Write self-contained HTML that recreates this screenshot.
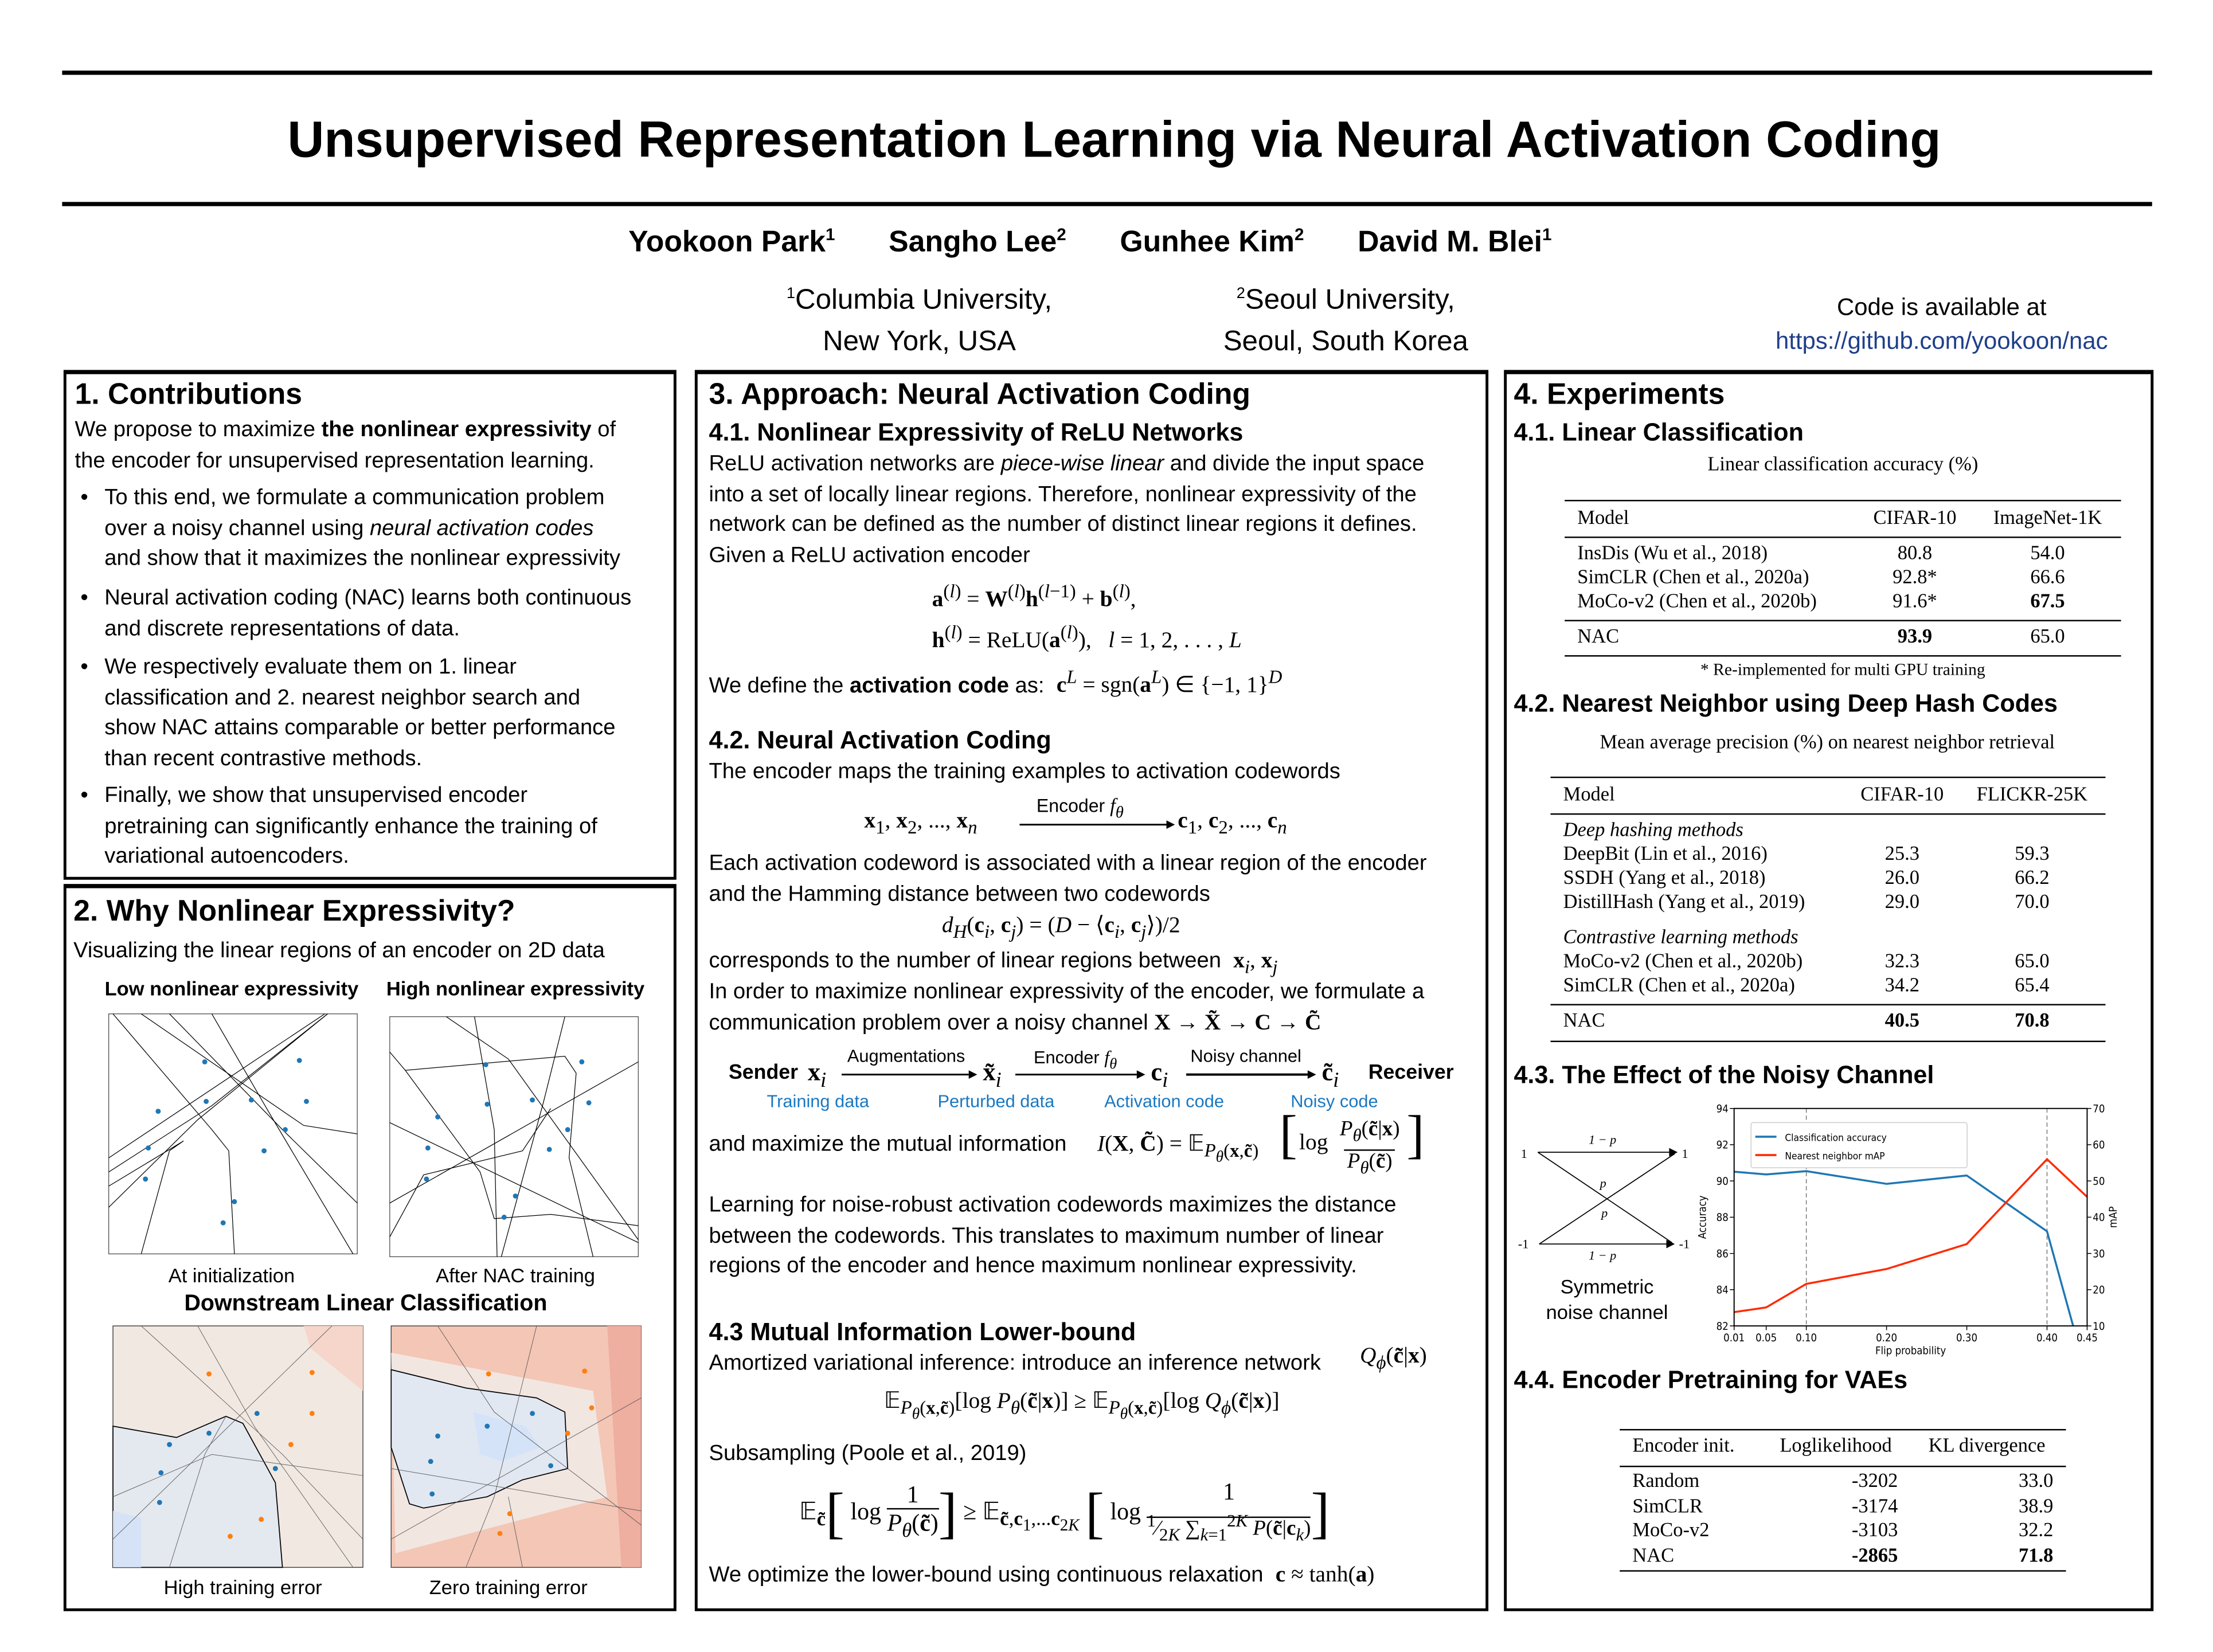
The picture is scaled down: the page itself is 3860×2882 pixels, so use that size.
<!DOCTYPE html>
<html><head><meta charset="utf-8">
<style>
html,body{margin:0;padding:0;background:#fff;}
body{width:3860px;height:2880px;overflow:hidden;position:relative;}
#pg{position:absolute;left:0;top:0;width:1568px;height:1170px;transform-origin:0 0;transform:scale(2.4631,2.4634);font-family:"Liberation Sans",sans-serif;color:#000;}
.a{position:absolute;white-space:nowrap;}
.t{font-size:15.5px;line-height:21.6px;}
.h1{font-size:21px;font-weight:bold;line-height:24px;}
.h2{font-size:17.5px;font-weight:bold;line-height:20px;}
.rule{position:absolute;background:#000;}
.panel{position:absolute;border:2px solid #000;border-top-width:3px;box-sizing:border-box;}
.s{font-family:"Liberation Serif",serif;font-size:14px;line-height:16px;}
.m{font-family:"Liberation Serif",serif;font-size:16px;}
.c{transform:translateX(-50%);}
.r{transform:translateX(-100%);}
.blue{color:#1a78c2;font-size:12.5px;}
</style></head><body>
<div id="pg">
<div class="rule" style="left:44px;top:50px;width:1480px;height:3px"></div>
<div class="a c" style="left:789px;top:78px;font-size:36px;font-weight:bold;">Unsupervised Representation Learning via Neural Activation Coding</div>
<div class="rule" style="left:44px;top:143px;width:1480px;height:3px"></div>
<div class="a" style="left:445px;top:159px;font-size:21px;font-weight:bold;word-spacing:0">Yookoon Park<sup style="font-size:12px">1</sup><span style="display:inline-block;width:38px"></span>Sangho Lee<sup style="font-size:12px">2</sup><span style="display:inline-block;width:38px"></span>Gunhee Kim<sup style="font-size:12px">2</sup><span style="display:inline-block;width:38px"></span>David M. Blei<sup style="font-size:12px">1</sup></div>
<div class="a c" style="left:651px;top:194px;font-size:20px;text-align:center;line-height:29px"><sup style="font-size:11px">1</sup>Columbia University,<br>New York, USA</div>
<div class="a c" style="left:953px;top:194px;font-size:20px;text-align:center;line-height:29px"><sup style="font-size:11px">2</sup>Seoul University,<br>Seoul, South Korea</div>
<div class="a c" style="left:1375px;top:206px;font-size:17px;text-align:center;line-height:24px">Code is available at<br><span style="color:#1f3f8a">https://github.com/yookoon/nac</span></div>

<!-- Panel 1 -->
<div class="panel" style="left:45px;top:262px;width:434px;height:361px"></div>
<div class="a h1" style="left:53px;top:268px">1. Contributions</div>
<div class="a t" style="left:53px;top:294px">We propose to maximize <b>the nonlinear expressivity</b> of<br>the encoder for unsupervised representation learning.</div>
<div class="a t" style="left:57px;top:342px">•</div>
<div class="a t" style="left:74px;top:342px">To this end, we formulate a communication problem<br>over a noisy channel using <i>neural activation codes</i><br>and show that it maximizes the nonlinear expressivity</div>
<div class="a t" style="left:57px;top:413px">•</div>
<div class="a t" style="left:74px;top:413px">Neural activation coding (NAC) learns both continuous<br>and discrete representations of data.</div>
<div class="a t" style="left:57px;top:462px">•</div>
<div class="a t" style="left:74px;top:462px">We respectively evaluate them on 1. linear<br>classification and 2. nearest neighbor search and<br>show NAC attains comparable or better performance<br>than recent contrastive methods.</div>
<div class="a t" style="left:57px;top:553px">•</div>
<div class="a t" style="left:74px;top:553px">Finally, we show that unsupervised encoder<br>pretraining can significantly enhance the training of<br>variational autoencoders.</div>

<!-- Panel 2 -->
<div class="panel" style="left:45px;top:626px;width:434px;height:515px"></div>
<div class="a h1" style="left:52px;top:634px">2. Why Nonlinear Expressivity?</div>
<div class="a t" style="left:52px;top:663px">Visualizing the linear regions of an encoder on 2D data</div>
<div class="a c" style="left:164px;top:692px;font-size:14px;font-weight:bold">Low nonlinear expressivity</div>
<div class="a c" style="left:365px;top:692px;font-size:14px;font-weight:bold">High nonlinear expressivity</div>
<svg class="a" style="left:0;top:0" width="480" height="1140">
 <g stroke="#000" stroke-width="0.5" fill="none">
  <rect x="77" y="718" width="176" height="170" stroke="#444"/>
  <polyline points="80,718 150,800 162,815 166,888"/>
  <polyline points="100,718 215,797 253,803"/>
  <polyline points="77,820 230,718"/><polyline points="77,830 150,783 232,718"/>
  <polyline points="77,855 140,793 232,718"/>
  <polyline points="120,718 200,800 253,852"/>
  <polyline points="150,718 190,787 250,888"/>
  <polyline points="100,888 120,815 130,808 77,840"/>
 </g>
 <g fill="#1f77b4">
  <circle cx="145" cy="752" r="1.8"/><circle cx="212" cy="751" r="1.8"/><circle cx="146" cy="780" r="1.8"/><circle cx="178" cy="779" r="1.8"/><circle cx="217" cy="780" r="1.8"/><circle cx="112" cy="787" r="1.8"/><circle cx="202" cy="800" r="1.8"/><circle cx="105" cy="813" r="1.8"/><circle cx="187" cy="815" r="1.8"/><circle cx="103" cy="835" r="1.8"/><circle cx="166" cy="851" r="1.8"/><circle cx="158" cy="866" r="1.8"/>
 </g>
 <g stroke="#000" stroke-width="0.5" fill="none">
  <rect x="276" y="720" width="176" height="170" stroke="#444"/>
  <polyline points="316,720 360,750 452,878"/>
  <polyline points="336,720 350,800 352,890"/>
  <polyline points="400,720 385,780 355,890"/>
  <polyline points="276,795 452,880"/><polyline points="276,852 452,752"/>
  <polyline points="276,745 287,758 400,748 408,760 403,820 420,890"/>
  <polyline points="287,758 340,830 350,863 390,860 452,868"/>
  <polyline points="276,876 300,832 370,815 390,785"/>
 </g>
 <g fill="#1f77b4">
  <circle cx="344" cy="754" r="1.8"/><circle cx="412" cy="752" r="1.8"/><circle cx="345" cy="782" r="1.8"/><circle cx="377" cy="779" r="1.8"/><circle cx="417" cy="781" r="1.8"/><circle cx="310" cy="791" r="1.8"/><circle cx="402" cy="800" r="1.8"/><circle cx="303" cy="813" r="1.8"/><circle cx="389" cy="814" r="1.8"/><circle cx="302" cy="835" r="1.8"/><circle cx="365" cy="847" r="1.8"/><circle cx="357" cy="862" r="1.8"/>
 </g>
 <rect x="80" y="939" width="177" height="171" fill="#f1e8e2" stroke="#444" stroke-width="0.6"/>
 <polygon points="215,939 257,939 257,985 220,955" fill="#f6d6cb"/>
 <polygon points="80,1010 125,1018 160,1003 172,1008 195,1050 200,1110 80,1110" fill="#e4e8ef" stroke="#000" stroke-width="0.7"/>
 <polygon points="80,1070 100,1075 100,1110 80,1110" fill="#d6e2f6"/>
 <g stroke="#555" stroke-width="0.35" fill="none"><polyline points="100,939 200,1030 257,1090"/><polyline points="80,1090 235,939"/><polyline points="140,939 180,1010 250,1110"/><polyline points="120,1110 145,1030 160,1003"/><polyline points="80,1060 150,1030 257,1045"/></g>
 <g fill="#1f77b4"><circle cx="148" cy="1015" r="1.8"/><circle cx="182" cy="1001" r="1.8"/><circle cx="120" cy="1023" r="1.8"/><circle cx="114" cy="1043" r="1.8"/><circle cx="195" cy="1040" r="1.8"/><circle cx="113" cy="1064" r="1.8"/></g>
 <g fill="#ff7f0e"><circle cx="148" cy="973" r="1.8"/><circle cx="221" cy="972" r="1.8"/><circle cx="206" cy="1023" r="1.8"/><circle cx="185" cy="1076" r="1.8"/><circle cx="163" cy="1088" r="1.8"/><circle cx="221" cy="1001" r="1.8"/></g>
 <rect x="277" y="939" width="177" height="171" fill="#f4c6b6" stroke="#444" stroke-width="0.6"/>
 <polygon points="277,958 420,985 430,1060 280,1100" fill="#f2e6e1"/>
 <polygon points="430,939 454,939 454,1110 440,1110" fill="#eeaea0"/>
 <polygon points="277,970 330,983 380,990 400,1000 402,1040 370,1048 345,1060 300,1068 290,1065 277,1025" fill="#e2e8f2" stroke="#000" stroke-width="0.7"/>
 <polygon points="335,1000 372,1010 383,1025 355,1035 340,1030" fill="#d5e3f8"/>
 <g stroke="#555" stroke-width="0.35" fill="none"><polyline points="310,939 350,1000 454,1080"/><polyline points="277,1090 454,990"/><polyline points="380,939 350,1060 330,1110"/><polyline points="277,1040 454,1070"/><polyline points="360,1060 370,1110"/></g>
 <g fill="#1f77b4"><circle cx="345" cy="1010" r="1.8"/><circle cx="377" cy="1001" r="1.8"/><circle cx="310" cy="1017" r="1.8"/><circle cx="305" cy="1035" r="1.8"/><circle cx="390" cy="1038" r="1.8"/><circle cx="306" cy="1058" r="1.8"/></g>
 <g fill="#ff7f0e"><circle cx="346" cy="973" r="1.8"/><circle cx="414" cy="971" r="1.8"/><circle cx="419" cy="997" r="1.8"/><circle cx="402" cy="1015" r="1.8"/><circle cx="361" cy="1072" r="1.8"/><circle cx="354" cy="1086" r="1.8"/></g>
</svg>
<div class="a c" style="left:164px;top:895px;font-size:14px">At initialization</div>
<div class="a c" style="left:365px;top:895px;font-size:14px">After NAC training</div>
<div class="a c" style="left:259px;top:915px;font-size:16px;font-weight:bold">Downstream Linear Classification</div>
<div class="a c" style="left:172px;top:1116px;font-size:14px">High training error</div>
<div class="a c" style="left:360px;top:1116px;font-size:14px">Zero training error</div>

<!-- Panel 3 -->
<div class="panel" style="left:492px;top:262px;width:562px;height:879px"></div>
<div class="a h1" style="left:502px;top:268px">3. Approach: Neural Activation Coding</div>
<div class="a h2" style="left:502px;top:296px">4.1. Nonlinear Expressivity of ReLU Networks</div>
<div class="a t" style="left:502px;top:318px">ReLU activation networks are <i>piece-wise linear</i> and divide the input space<br>into a set of locally linear regions. Therefore, nonlinear expressivity of the<br>network can be defined as the number of distinct linear regions it defines.<br>Given a ReLU activation encoder</div>
<div class="a m" style="left:660px;top:411px"><b>a</b><sup>(<i>l</i>)</sup> = <b>W</b><sup>(<i>l</i>)</sup><b>h</b><sup>(<i>l</i>−1)</sup> + <b>b</b><sup>(<i>l</i>)</sup>,</div>
<div class="a m" style="left:660px;top:440px"><b>h</b><sup>(<i>l</i>)</sup> = ReLU(<b>a</b><sup>(<i>l</i>)</sup>), &nbsp;&nbsp;<i>l</i> = 1, 2, . . . , <i>L</i></div>
<div class="a t" style="left:502px;top:469px">We define the <b>activation code</b> as: &nbsp;<span class="m"><b>c</b><sup><i>L</i></sup> = sgn(<b>a</b><sup><i>L</i></sup>) ∈ {−1, 1}<sup><i>D</i></sup></span></div>
<div class="a h2" style="left:502px;top:514px">4.2. Neural Activation Coding</div>
<div class="a t" style="left:502px;top:536px">The encoder maps the training examples to activation codewords</div>
<div class="a m" style="left:612px;top:573px"><b>x</b><sub>1</sub>, <b>x</b><sub>2</sub>, ..., <b>x</b><sub><i>n</i></sub></div>
<div class="a" style="left:734px;top:563px;font-size:13px">Encoder <i class="m" style="font-size:14px">f<sub>θ</sub></i></div>
<svg class="a" style="left:722px;top:579px" width="110" height="10"><line x1="0" y1="5" x2="104" y2="5" stroke="#000" stroke-width="1.2"/><polygon points="104,2 110,5 104,8"/></svg>
<div class="a m" style="left:834px;top:573px"><b>c</b><sub>1</sub>, <b>c</b><sub>2</sub>, ..., <b>c</b><sub><i>n</i></sub></div>
<div class="a t" style="left:502px;top:601px">Each activation codeword is associated with a linear region of the encoder<br>and the Hamming distance between two codewords</div>
<div class="a m" style="left:667px;top:645px"><i>d<sub>H</sub></i>(<b>c</b><sub><i>i</i></sub>, <b>c</b><sub><i>j</i></sub>) = (<i>D</i> − ⟨<b>c</b><sub><i>i</i></sub>, <b>c</b><sub><i>j</i></sub>⟩)/2</div>
<div class="a t" style="left:502px;top:670px">corresponds to the number of linear regions between &nbsp;<span class="m"><b>x</b><sub><i>i</i></sub>, <b>x</b><sub><i>j</i></sub></span></div>
<div class="a t" style="left:502px;top:692px">In order to maximize nonlinear expressivity of the encoder, we formulate a<br>communication problem over a noisy channel <span class="m"><b>X</b> → <b>X̃</b> → <b>C</b> → <b>C̃</b></span></div>
<div class="a" style="left:516px;top:752px;font-size:14.5px;font-weight:bold">Sender</div>
<div class="a m" style="left:572px;top:749px;font-size:18px"><b>x</b><sub><i>i</i></sub></div>
<div class="a" style="left:600px;top:741px;font-size:12.5px">Augmentations</div>
<svg class="a" style="left:596px;top:756px" width="96" height="10"><line x1="0" y1="5" x2="90" y2="5" stroke="#000" stroke-width="1.2"/><polygon points="90,2 96,5 90,8"/></svg>
<div class="a m" style="left:696px;top:749px;font-size:18px"><b>x̃</b><sub><i>i</i></sub></div>
<div class="a" style="left:732px;top:741px;font-size:12.5px">Encoder <i class="m" style="font-size:13px">f<sub>θ</sub></i></div>
<svg class="a" style="left:719px;top:756px" width="92" height="10"><line x1="0" y1="5" x2="86" y2="5" stroke="#000" stroke-width="1.2"/><polygon points="86,2 92,5 86,8"/></svg>
<div class="a m" style="left:815px;top:749px;font-size:18px"><b>c</b><sub><i>i</i></sub></div>
<div class="a" style="left:843px;top:741px;font-size:12.5px">Noisy channel</div>
<svg class="a" style="left:840px;top:756px" width="92" height="10"><line x1="0" y1="5" x2="86" y2="5" stroke="#000" stroke-width="1.6"/><polygon points="86,2 92,5 86,8"/></svg>
<div class="a m" style="left:936px;top:749px;font-size:18px"><b>c̃</b><sub><i>i</i></sub></div>
<div class="a" style="left:969px;top:752px;font-size:14.5px;font-weight:bold">Receiver</div>
<div class="a blue" style="left:543px;top:773px">Training data</div>
<div class="a blue" style="left:664px;top:773px">Perturbed data</div>
<div class="a blue" style="left:782px;top:773px">Activation code</div>
<div class="a blue" style="left:914px;top:773px">Noisy code</div>
<div class="a t" style="left:502px;top:800px">and maximize the mutual information</div>
<div class="a m" style="left:777px;top:800px"><i>I</i>(<b>X</b>, <b>C̃</b>) = 𝔼<sub><i>P<sub>θ</sub></i>(<b>x</b>,<b>c̃</b>)</sub></div>
<div class="a m" style="left:906px;top:782px;font-size:38px;line-height:44px">[</div>
<div class="a m" style="left:920px;top:801px">log</div>
<div class="a m c" style="left:970px;top:791px;font-size:15px;text-align:center;line-height:19px"><i>P<sub>θ</sub></i>(<b>c̃</b>|<b>x</b>)<br><span style="border-top:1px solid #000;padding:0 2px"><i>P<sub>θ</sub></i>(<b>c̃</b>)</span></div>
<div class="a m" style="left:996px;top:782px;font-size:38px;line-height:44px">]</div>
<div class="a t" style="left:502px;top:843px">Learning for noise-robust activation codewords maximizes the distance<br>between the codewords. This translates to maximum number of linear<br>regions of the encoder and hence maximum nonlinear expressivity.</div>
<div class="a h2" style="left:502px;top:933px">4.3 Mutual Information Lower-bound</div>
<div class="a t" style="left:502px;top:955px">Amortized variational inference: introduce an inference network</div>
<div class="a m" style="left:963px;top:952px"><i>Q<sub>ϕ</sub></i>(<b>c̃</b>|<b>x</b>)</div>
<div class="a m" style="left:626px;top:982px">𝔼<sub><i>P<sub>θ</sub></i>(<b>x</b>,<b>c̃</b>)</sub>[log <i>P<sub>θ</sub></i>(<b>c̃</b>|<b>x</b>)] ≥ 𝔼<sub><i>P<sub>θ</sub></i>(<b>x</b>,<b>c̃</b>)</sub>[log <i>Q<sub>ϕ</sub></i>(<b>c̃</b>|<b>x</b>)]</div>
<div class="a t" style="left:502px;top:1019px">Subsampling (Poole et al., 2019)</div>
<div class="a m" style="left:566px;top:1047px;font-size:17px">𝔼<sub><b>c̃</b></sub><span style="font-size:40px;vertical-align:-9px">[</span> log <span style="display:inline-block;text-align:center;vertical-align:middle;line-height:20px">1<br><span style="border-top:1px solid #000"><i>P<sub>θ</sub></i>(<b>c̃</b>)</span></span><span style="font-size:40px;vertical-align:-9px">]</span> ≥ 𝔼<sub><b>c̃</b>,<b>c</b><sub>1</sub>,...<b>c</b><sub>2<i>K</i></sub></sub> <span style="font-size:40px;vertical-align:-9px">[</span> log <span style="display:inline-block;text-align:center;vertical-align:middle;line-height:20px">1<br><span style="border-top:1px solid #000;font-size:15px"><sup>1</sup>⁄<sub>2<i>K</i></sub> ∑<sub><i>k</i>=1</sub><sup>2<i>K</i></sup> <i>P</i>(<b>c̃</b>|<b>c</b><sub><i>k</i></sub>)</span></span><span style="font-size:40px;vertical-align:-9px">]</span></div>
<div class="a t" style="left:502px;top:1105px">We optimize the lower-bound using continuous relaxation &nbsp;<span class="m"><b>c</b> ≈ tanh(<b>a</b>)</span></div>

<!-- Panel 4 -->
<div class="panel" style="left:1065px;top:262px;width:460px;height:879px"></div>
<div class="a h1" style="left:1072px;top:268px">4. Experiments</div>
<div class="a h2" style="left:1072px;top:296px">4.1. Linear Classification</div>
<div class="a s c" style="left:1305px;top:322px">Linear classification accuracy (%)</div>
<div class="rule" style="left:1108px;top:354px;width:394px;height:1.3px"></div>
<div class="rule" style="left:1108px;top:380px;width:394px;height:0.8px"></div>
<div class="rule" style="left:1108px;top:439px;width:394px;height:0.8px"></div>
<div class="rule" style="left:1108px;top:464px;width:394px;height:1.3px"></div>
<div>
<div class="a s" style="left:1117px;top:360px">Model</div><div class="a s c" style="left:1356px;top:360px">CIFAR-10</div><div class="a s c" style="left:1450px;top:360px">ImageNet-1K</div>
<div class="a s" style="left:1117px;top:385px">InsDis (Wu et al., 2018)</div><div class="a s c" style="left:1356px;top:385px">80.8</div><div class="a s c" style="left:1450px;top:385px">54.0</div>
<div class="a s" style="left:1117px;top:402px">SimCLR (Chen et al., 2020a)</div><div class="a s c" style="left:1356px;top:402px">92.8*</div><div class="a s c" style="left:1450px;top:402px">66.6</div>
<div class="a s" style="left:1117px;top:419px">MoCo-v2 (Chen et al., 2020b)</div><div class="a s c" style="left:1356px;top:419px">91.6*</div><div class="a s c" style="left:1450px;top:419px"><b>67.5</b></div>
<div class="a s" style="left:1117px;top:444px">NAC</div><div class="a s c" style="left:1356px;top:444px"><b>93.9</b></div><div class="a s c" style="left:1450px;top:444px">65.0</div>
</div>
<div class="a s c" style="left:1305px;top:466px;font-size:12px">* Re-implemented for multi GPU training</div>
<div class="a h2" style="left:1072px;top:488px">4.2. Nearest Neighbor using Deep Hash Codes</div>
<div class="a s c" style="left:1294px;top:519px">Mean average precision (%) on nearest neighbor retrieval</div>
<div class="rule" style="left:1098px;top:550px;width:393px;height:1.3px"></div>
<div class="rule" style="left:1098px;top:576px;width:393px;height:0.8px"></div>
<div class="rule" style="left:1098px;top:711px;width:393px;height:0.8px"></div>
<div class="rule" style="left:1098px;top:737px;width:393px;height:1.3px"></div>
<div>
<div class="a s" style="left:1107px;top:556px">Model</div><div class="a s c" style="left:1347px;top:556px">CIFAR-10</div><div class="a s c" style="left:1439px;top:556px">FLICKR-25K</div>
<div class="a s" style="left:1107px;top:581px"><i>Deep hashing methods</i></div>
<div class="a s" style="left:1107px;top:598px">DeepBit (Lin et al., 2016)</div><div class="a s c" style="left:1347px;top:598px">25.3</div><div class="a s c" style="left:1439px;top:598px">59.3</div>
<div class="a s" style="left:1107px;top:615px">SSDH (Yang et al., 2018)</div><div class="a s c" style="left:1347px;top:615px">26.0</div><div class="a s c" style="left:1439px;top:615px">66.2</div>
<div class="a s" style="left:1107px;top:632px">DistillHash (Yang et al., 2019)</div><div class="a s c" style="left:1347px;top:632px">29.0</div><div class="a s c" style="left:1439px;top:632px">70.0</div>
<div class="a s" style="left:1107px;top:657px"><i>Contrastive learning methods</i></div>
<div class="a s" style="left:1107px;top:674px">MoCo-v2 (Chen et al., 2020b)</div><div class="a s c" style="left:1347px;top:674px">32.3</div><div class="a s c" style="left:1439px;top:674px">65.0</div>
<div class="a s" style="left:1107px;top:691px">SimCLR (Chen et al., 2020a)</div><div class="a s c" style="left:1347px;top:691px">34.2</div><div class="a s c" style="left:1439px;top:691px">65.4</div>
<div class="a s" style="left:1107px;top:716px">NAC</div><div class="a s c" style="left:1347px;top:716px"><b>40.5</b></div><div class="a s c" style="left:1439px;top:716px"><b>70.8</b></div>
</div>
<div class="a h2" style="left:1072px;top:751px">4.3. The Effect of the Noisy Channel</div>
<svg class="a" style="left:1070px;top:795px" width="135" height="105">
 <g font-family="Liberation Serif,serif" font-size="9" fill="#000">
  <text x="7" y="25">1</text><text x="121" y="25">1</text><text x="5" y="89">-1</text><text x="119" y="89">-1</text>
  <text x="55" y="15" font-style="italic">1 − p</text><text x="55" y="97" font-style="italic">1 − p</text>
  <text x="63" y="46" font-style="italic">p</text><text x="64" y="67" font-style="italic">p</text>
 </g>
 <g stroke="#000" stroke-width="0.7" fill="none">
  <line x1="19" y1="21" x2="116" y2="21"/><line x1="20" y1="86" x2="114" y2="86"/>
  <line x1="19" y1="21" x2="114" y2="85"/><line x1="20" y1="86" x2="116" y2="22"/>
 </g>
 <polygon points="112,18 118,21 112,24"/><polygon points="110,83 116,86 110,89"/>
</svg>
<div class="a c" style="left:1138px;top:902px;font-size:14px;text-align:center;line-height:18px">Symmetric<br>noise channel</div>
<svg id="chart" class="a" style="left:1195px;top:773px" width="320" height="195"></svg>
<div class="a h2" style="left:1072px;top:967px">4.4. Encoder Pretraining for VAEs</div>
<div class="rule" style="left:1147px;top:1012px;width:316px;height:1.3px"></div>
<div class="rule" style="left:1147px;top:1038px;width:316px;height:0.8px"></div>
<div class="rule" style="left:1147px;top:1112px;width:316px;height:1.3px"></div>
<div>
<div class="a s" style="left:1156px;top:1017px">Encoder init.</div><div class="a s c" style="left:1300px;top:1017px">Loglikelihood</div><div class="a s c" style="left:1407px;top:1017px">KL divergence</div>
<div class="a s" style="left:1156px;top:1042px">Random</div><div class="a s r" style="left:1344px;top:1042px">-3202</div><div class="a s r" style="left:1454px;top:1042px">33.0</div>
<div class="a s" style="left:1156px;top:1060px">SimCLR</div><div class="a s r" style="left:1344px;top:1060px">-3174</div><div class="a s r" style="left:1454px;top:1060px">38.9</div>
<div class="a s" style="left:1156px;top:1077px">MoCo-v2</div><div class="a s r" style="left:1344px;top:1077px">-3103</div><div class="a s r" style="left:1454px;top:1077px">32.2</div>
<div class="a s" style="left:1156px;top:1095px">NAC</div><div class="a s r" style="left:1344px;top:1095px"><b>-2865</b></div><div class="a s r" style="left:1454px;top:1095px"><b>71.8</b></div>
</div>
</div>
<script>
const flipProbs=[0.01,0.05,0.10,0.20,0.30,0.40,0.45];
const accuracy=[90.51,90.36,90.54,89.84,90.3,87.22,79.2];
const mapValues=[13.8,15.1,21.6,25.7,32.6,56.0,45.6];
const accTicks=[82,84,86,88,90,92,94];
const mapTicks=[10,20,30,40,50,60,70];
const xTickLabels=["0.01","0.05","0.10","0.20","0.30","0.40","0.45"];
const vLines=[0.10,0.40];
(function(){
 const svg=document.getElementById('chart');const NS='http://www.w3.org/2000/svg';
 const L=33,R=283,T=12,B=166;
 const xs=v=>L+(v-0.01)/(0.45-0.01)*(R-L);
 const ya=v=>B-(v-82)/(94-82)*(B-T);
 const ym=v=>B-(v-10)/(70-10)*(B-T);
 function el(t,a,p){const e=document.createElementNS(NS,t);for(const k in a)e.setAttribute(k,a[k]);(p||svg).appendChild(e);return e;}
 const defs=el('defs',{});const cp=el('clipPath',{id:'pc'},defs);el('rect',{x:L,y:T,width:R-L,height:B-T},cp);
 vLines.forEach(v=>{const l=el('line',{x1:xs(v),x2:xs(v),y1:T,y2:B,stroke:'#777','stroke-width':0.6,'stroke-dasharray':'3,2'});
 
 });
 const pa=el('polyline',{points:flipProbs.map((p,i)=>xs(p)+','+ya(accuracy[i])).join(' '),fill:'none',stroke:'#1f77b4','stroke-width':1.4,'clip-path':'url(#pc)'});
 
 
 const pm=el('polyline',{points:flipProbs.map((p,i)=>xs(p)+','+ym(mapValues[i])).join(' '),fill:'none',stroke:'#ff2a00','stroke-width':1.4,'clip-path':'url(#pc)'});
 
 
 el('rect',{x:L,y:T,width:R-L,height:B-T,fill:'none',stroke:'#000','stroke-width':0.8});
 const f={'font-family':'DejaVu Sans Condensed,DejaVu Sans,sans-serif','font-size':7.5,fill:'#000'};
 accTicks.forEach(v=>{el('line',{x1:L-3,x2:L,y1:ya(v),y2:ya(v),stroke:'#000','stroke-width':0.6});
  const t=el('text',Object.assign({x:L-4,y:ya(v)+2.7,'text-anchor':'end'},f));t.textContent=v;
  
  });
 mapTicks.forEach(v=>{el('line',{x1:R,x2:R+3,y1:ym(v),y2:ym(v),stroke:'#000','stroke-width':0.6});
  const t=el('text',Object.assign({x:R+4,y:ym(v)+2.7},f));t.textContent=v;
  
  });
 flipProbs.forEach((p,i)=>{el('line',{x1:xs(p),x2:xs(p),y1:B,y2:B+3,stroke:'#000','stroke-width':0.6});
  const t=el('text',Object.assign({x:xs(p),y:B+11,'text-anchor':'middle'},f));t.textContent=xTickLabels[i];
  
  });
 const xl=el('text',Object.assign({x:(L+R)/2,y:B+20,'text-anchor':'middle'},f));xl.textContent='Flip probability';
 
 
 const yl=el('text',Object.assign({x:0,y:0,'text-anchor':'middle',transform:'translate('+(L-20)+','+((T+B)/2)+') rotate(-90)'},f));yl.textContent='Accuracy';
 
 
 const yr=el('text',Object.assign({x:0,y:0,'text-anchor':'middle',transform:'translate('+(R+21)+','+((T+B)/2)+') rotate(-90)'},f));yr.textContent='mAP';
 
 
 const lg=el('g',{});
 
 
 el('rect',{x:L+12,y:T+10,width:153,height:32,fill:'#fff',stroke:'#ccc','stroke-width':0.6,rx:1.5},lg);
 el('line',{x1:L+15,x2:L+30,y1:T+20,y2:T+20,stroke:'#1f77b4','stroke-width':1.5},lg);
 el('line',{x1:L+15,x2:L+30,y1:T+33,y2:T+33,stroke:'#ff2a00','stroke-width':1.5},lg);
 const l1=el('text',Object.assign({x:L+36,y:T+23},f,{'font-size':7}),lg);l1.textContent='Classification accuracy';
 
 
 const l2=el('text',Object.assign({x:L+36,y:T+36},f,{'font-size':7}),lg);l2.textContent='Nearest neighbor mAP';
 
 
})();
</script>
</body></html>
